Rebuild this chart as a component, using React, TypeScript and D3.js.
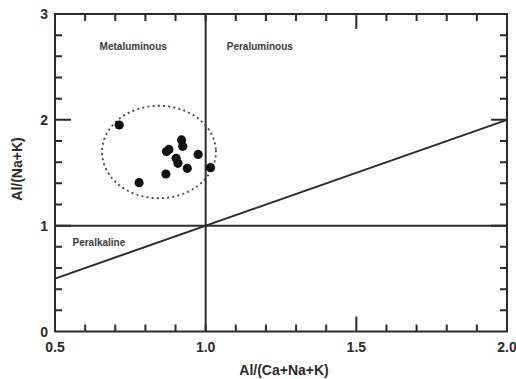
import * as d3 from "d3";

const sampleX = [0.713, 0.779, 0.87, 0.878, 0.868, 0.92, 0.924, 0.902, 0.908, 0.939, 0.975, 1.016];
const sampleY = [1.951, 1.406, 1.701, 1.72, 1.488, 1.81, 1.75, 1.637, 1.589, 1.542, 1.673, 1.548];

const xTickLabels = ["0.5", "1.0", "1.5", "2.0"];
const yTickLabels = ["0", "1", "2", "3"];

// field ellipse around the samples (centre x, centre y, radius x, radius y)
const fieldEllipse = [0.845, 1.696, 0.189, 0.437];

const fieldLabels = [
  { text: "Metaluminous", x: 0.648, y: 2.66 },
  { text: "Peraluminous", x: 1.07, y: 2.66 },
  { text: "Peralkaline", x: 0.558, y: 0.81 },
];

const x0 = 55, x1 = 507, y0 = 331.5, y1 = 14;
const ink = "#2b2b2b";

export default function App() {
  const x = d3.scaleLinear().domain([0.5, 2.0]).range([x0, x1]);
  const y = d3.scaleLinear().domain([0, 3]).range([y0, y1]);

  const xTicks = d3.range(6, 20).map((d) => ({ v: d / 10, len: d === 15 ? 15 : 7 }));
  const yTicks = d3.range(1, 15).map((d) => ({ v: d / 5, len: d % 5 === 0 ? 16 : 7 }));

  // inward tick marks on all four sides, as one path
  let tickPath = "";
  xTicks.forEach((t) => {
    const px = x(t.v);
    tickPath += `M${px},${y0}V${y0 - t.len}M${px},${y1}V${y1 + t.len}`;
  });
  yTicks.forEach((t) => {
    const py = y(t.v);
    tickPath += `M${x0},${py}H${x0 + t.len}M${x1},${py}H${x1 - t.len}`;
  });

  const [cx, cy, rx, ry] = fieldEllipse;
  const angles = d3.range(0, 360, 3).map((a) => (a * Math.PI) / 180);
  const ell = d3.line<number>()
    .x((a) => x(cx + rx * Math.cos(a)))
    .y((a) => y(cy + ry * Math.sin(a)))
    .curve(d3.curveCardinalClosed);

  const bold = { fontSize: 14, fontWeight: "bold" as const, fill: ink };

  return (
    <svg
      width={516}
      height={379}
      style={{ position: "absolute", left: 0, top: 0, background: "#fff", fontFamily: "'Liberation Sans', Arial, sans-serif" }}
    >
      {/* field boundaries */}
      <g stroke={ink} strokeWidth={2}>
        <line x1={x(1)} x2={x(1)} y1={y(0)} y2={y(3)} />
        <line x1={x(0.5)} x2={x(2)} y1={y(1)} y2={y(1)} />
        <line x1={x(0.5)} x2={x(2)} y1={y(0.5)} y2={y(2)} />
      </g>

      <path d={tickPath} fill="none" stroke={ink} strokeWidth={2} />

      <rect x={x0} y={y1} width={x1 - x0} height={y0 - y1} fill="none" stroke={ink} strokeWidth={2} />

      {xTickLabels.map((d) => (
        <text key={d} x={x(+d)} y={351.5} textAnchor="middle" {...bold}>{d}</text>
      ))}
      {yTickLabels.map((d) => (
        <text key={d} x={48} y={y(+d) + 5} textAnchor="end" {...bold}>{d}</text>
      ))}

      <text x={284} y={375} textAnchor="middle" {...bold}>Al/(Ca+Na+K)</text>
      <text transform="translate(22,169) rotate(-90)" textAnchor="middle" {...bold}>Al/(Na+K)</text>

      {fieldLabels.map((d) => (
        <text key={d.text} x={x(d.x)} y={y(d.y)} fontSize={10} fontWeight="bold" fill="#3a3a3a">{d.text}</text>
      ))}

      <path d={ell(angles) ?? ""} fill="none" stroke="#444" strokeWidth={1.8} strokeDasharray="2,3.2" />

      {sampleX.map((d, i) => (
        <circle key={i} cx={x(d)} cy={y(sampleY[i])} r={4.6} fill="#111" />
      ))}
    </svg>
  );
}
